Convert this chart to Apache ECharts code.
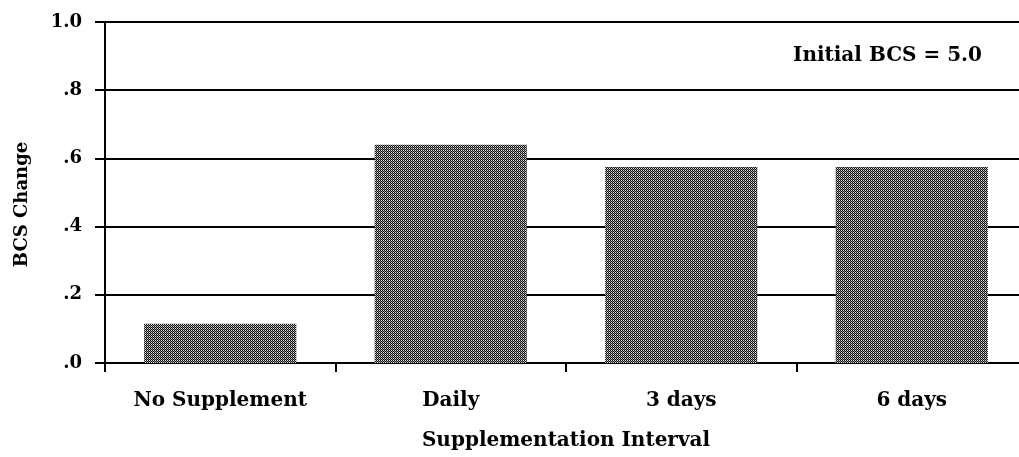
<!DOCTYPE html>
<html>
<head>
<meta charset="utf-8">
<script src="https://cdn.jsdelivr.net/npm/echarts@6/dist/echarts.min.js"></script>
<style>
  html, body { margin: 0; padding: 0; background: #fff; }
  #chart { width: 1019px; height: 457px; }
</style>
</head>
<body>
<div id="chart"></div>
<script>
// 数据
const categories = ['No Supplement', 'Daily', '3 days', '6 days']
const bcsChange = [0.115, 0.64, 0.575, 0.575]
const yTickLabels = ['.0', '.2', '.4', '.6', '.8', '1.0']
const note = 'Initial BCS = 5.0'

const FONT = '"DejaVu Serif", "Liberation Serif", serif'

// 交叉网纹填充：黑色棋盘格，间隔浅灰和中灰
const makeHatch = () => {
  const c = document.createElement('canvas')
  c.width = 4
  c.height = 4
  const ctx = c.getContext('2d')
  for (let y = 0; y < 4; y++) {
    for (let x = 0; x < 4; x++) {
      if ((x + y) % 2 === 0) ctx.fillStyle = '#111'
      else if (x % 2 === 1) ctx.fillStyle = '#e0e0e0'
      else ctx.fillStyle = '#888'
      ctx.fillRect(x, y, 1, 1)
    }
  }
  return c
}

const chart = echarts.init(document.getElementById('chart'))

chart.setOption({
  animation: false,
  backgroundColor: '#fff',
  grid: { left: 105, right: -8, top: 22, bottom: 94, outerBoundsMode: 'none' },
  graphic: [{
    type: 'text',
    right: 37,
    top: 46,
    style: { text: note, font: 'bold 20px ' + FONT, fill: '#000' }
  }],
  xAxis: {
    type: 'category',
    data: categories,
    name: 'Supplementation Interval',
    nameLocation: 'middle',
    nameGap: 68,
    nameTextStyle: { fontFamily: FONT, fontWeight: 'bold', fontSize: 20, color: '#000' },
    axisLine: { lineStyle: { color: '#000', width: 2 } },
    axisTick: { show: true, length: 9, lineStyle: { color: '#000', width: 2 } },
    axisLabel: { margin: 28, fontFamily: FONT, fontWeight: 'bold', fontSize: 20, color: '#000' }
  },
  yAxis: {
    type: 'value',
    min: 0,
    max: 1,
    interval: 0.2,
    name: 'BCS Change',
    nameLocation: 'middle',
    nameGap: 74,
    nameTextStyle: { fontFamily: FONT, fontWeight: 'bold', fontSize: 18, color: '#000', padding: [0, 24, 0, 0] },
    axisLine: { show: true, lineStyle: { color: '#000', width: 2 } },
    axisTick: { show: true, length: 10, lineStyle: { color: '#000', width: 2 } },
    axisLabel: {
      margin: 23,
      fontFamily: FONT,
      fontWeight: 'bold',
      fontSize: 18,
      color: '#000',
      formatter: (v) => yTickLabels[Math.round(v / 0.2)]
    },
    splitLine: { lineStyle: { color: '#000', width: 2 } }
  },
  series: [{
    type: 'bar',
    data: bcsChange,
    barCategoryGap: '34%',
    itemStyle: { color: { image: makeHatch(), repeat: 'repeat' } }
  }]
})
</script>
</body>
</html>
